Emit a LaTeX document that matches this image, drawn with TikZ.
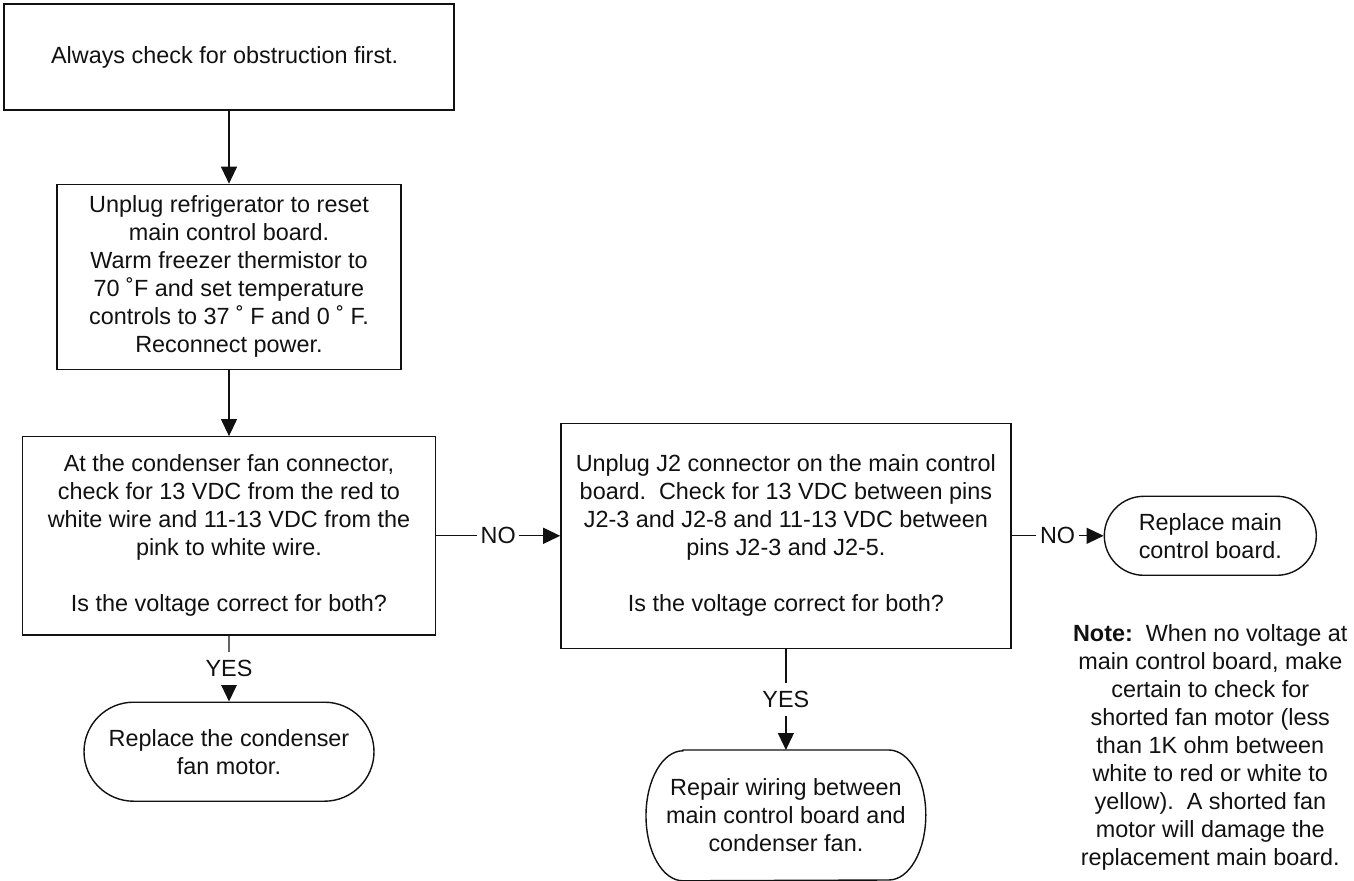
\documentclass[tikz,border=0pt]{standalone}
\usepackage{fontspec}
\setmainfont{Liberation Sans}
\usepackage{tikz}
\usetikzlibrary{arrows.meta,positioning,shapes.misc}
\definecolor{ink}{HTML}{111111}
\tikzset{
  stepbox/.style={
    rectangle,
    draw=ink,
    line width=0.7pt,
    align=center,
    inner sep=2pt,
    fill=white
  },
  endcap/.style={
    rounded rectangle,
    draw=ink,
    line width=0.7pt,
    align=center,
    inner sep=2pt,
    fill=white
  },
  % tall end box: outline drawn separately with elliptic caps
  tallcap/.style={
    rectangle,
    align=center,
    inner sep=2pt
  },
  capline/.style={
    draw=ink,
    line width=0.7pt
  },
  flow/.style={
    -{Triangle[length=8.5pt,width=8pt]},
    draw=ink,
    line width=0.6pt
  },
  answer/.style={
    fill=white,
    inner xsep=1.8pt,
    inner ysep=4pt
  },
  note/.style={
    align=center,
    inner sep=0pt
  }
}

\begin{document}
\begin{tikzpicture}[
  font=\fontsize{11.7pt}{14pt}\selectfont,
  every node/.style={text=ink}
]
\useasboundingbox (0,0) rectangle (677pt,-440.5pt);

% Left column: reset and the check at the fan connector.
\node[stepbox, minimum width=225pt, minimum height=53pt] (start) at (114.5pt,-28.5pt) {
  Always check for obstruction first.
};
\node[stepbox, minimum width=172pt, minimum height=92.5pt, below=36.5pt of start] (unplug) {
  Unplug refrigerator to reset\\
  main control board.\\
  Warm freezer thermistor to\\
  70 ˚F and set temperature\\
  controls to 37 ˚ F and 0 ˚ F.\\
  Reconnect power.
};
\node[stepbox, minimum width=206.5pt, minimum height=99pt, below=33pt of unplug] (fancheck) {
  At the condenser fan connector,\\
  check for 13 VDC from the red to\\
  white wire and 11-13 VDC from the\\
  pink to white wire.\\[14pt]
  Is the voltage correct for both?
};
\node[endcap, minimum width=149pt, minimum height=49.5pt, below=33pt of fancheck] (replacefan) {
  Replace the condenser\\
  fan motor.
};

% Middle column: check at the main control board.
\node[stepbox, minimum width=225pt, minimum height=112.5pt, right=62pt of fancheck] (boardcheck) {
  Unplug J2 connector on the main control\\
  board.\ \ Check for 13 VDC between pins\\
  J2-3 and J2-8 and 11-13 VDC between\\
  pins J2-3 and J2-5.\\[14pt]
  Is the voltage correct for both?
};
\node[tallcap, minimum width=139.5pt, minimum height=65pt, below=50.5pt of boardcheck] (repairwire) {
  Repair wiring between\\
  main control board and\\
  condenser fan.
};
\draw[capline] ([xshift=18.5pt]repairwire.north west) -- ([xshift=-18.5pt]repairwire.north east)
  arc[start angle=90, end angle=-90, x radius=18.5pt, y radius=32.5pt]
  -- ([xshift=18.5pt]repairwire.south west)
  arc[start angle=270, end angle=90, x radius=18.5pt, y radius=32.5pt] -- cycle;

% Right column: board replacement and the note.
\node[endcap, minimum width=110pt, minimum height=39.5pt, right=46pt of boardcheck] (replaceboard) {
  Replace main\\
  control board.
};
\node[note, below=24pt of replaceboard] (warning) {
  \textbf{Note:}\ \ When no voltage at\\
  main control board, make\\
  certain to check for\\
  shorted fan motor (less\\
  than 1K ohm between\\
  white to red or white to\\
  yellow).\ \ A shorted fan\\
  motor will damage the\\
  replacement main board.
};

% Connectors.
\draw[flow] (start) -- (unplug);
\draw[flow] (unplug) -- (fancheck);
\draw[flow] (fancheck) -- node[answer] {NO} (boardcheck);
\draw[flow] (fancheck) -- node[answer] {YES} (replacefan);
\draw[flow] (boardcheck) -- node[answer] {NO} (replaceboard);
\draw[flow] (boardcheck) -- node[answer] {YES} (repairwire);

\end{tikzpicture}
\end{document}
